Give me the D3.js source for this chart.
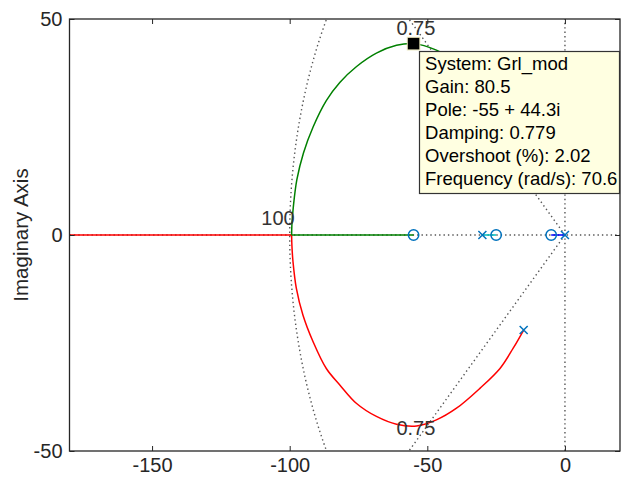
<!DOCTYPE html>
<html>
<head>
<meta charset="utf-8">
<script src="https://cdn.jsdelivr.net/npm/d3@7"></script>
<style>
  html, body { margin: 0; padding: 0; background: #ffffff; }
  svg { display: block; font-family: "Liberation Sans", Arial, sans-serif; }
</style>
</head>
<body>
<svg id="chart" width="621" height="478"></svg>
<script>
// Axis ranges and tick labels
const xDomain = [-180, 20];
const yDomain = [-50, 50];
const xTicks = [-150, -100, -50, 0];
const yTicks = [-50, 0, 50];

// Open-loop poles and zeros (real, imaginary)
const poles = [[0, 0], [-30, 0], [-15, 22], [-15, -22]];
const zerosPZ = [[-5, 0], [-25, 0], [-55, 0]];

// Complex branches of the locus (real, imaginary)
const greenArc = [[-15, 22], [-18.8, 26.2], [-23.6, 30.9], [-30.9, 35.5], [-39.4, 40.1],
  [-46.7, 42.8], [-55, 44.3], [-61.2, 43.9], [-68.5, 42.1], [-75.7, 39.0], [-81.8, 35.3],
  [-86.7, 31.1], [-91.5, 25.0], [-95.0, 19.0], [-97.4, 12.8], [-98.7, 6.4], [-99.2, 2.4], [-99.3, 0]];
const redArc = [[-15, -22], [-18.8, -26.2], [-23.6, -30.9], [-30.9, -35.5], [-39.4, -40.1],
  [-46.7, -42.8], [-53.9, -44.2], [-61.2, -43.8], [-68.5, -42.0], [-75.7, -39.0], [-81.8, -34.7],
  [-86.7, -30.9], [-91.5, -24.7], [-95.2, -18.5], [-97.6, -12.3], [-98.8, -6.2], [-99.2, -2.4], [-99.3, 0]];

// Real-axis segments of the locus
const greenReal = [[-99.3, 0], [-55, 0]];
const redReal = [[-99.3, 0], [-200, 0]];
const cyanReal = [[-30, 0], [-25, 0]];
const blueReal = [[0, 0], [-5, 0]];

// s-plane grid: damping ratio lines and natural frequency circles
const dampingRatios = [0.75];
const naturalFreqs = [100];

// Data tip
const tipPoint = [-55, 44.3];
const tipLines = ["System: Grl_mod", "Gain: 80.5", "Pole: -55 + 44.3i",
  "Damping: 0.779", "Overshoot (%): 2.02", "Frequency (rad/s): 70.6"];

const svg = d3.select("#chart");
const plot = { left: 69.5, top: 19, right: 620, bottom: 451 };

const x = d3.scaleLinear().domain(xDomain).range([plot.left, plot.right]);
const y = d3.scaleLinear().domain(yDomain).range([plot.bottom, plot.top]);

const axisColor = "#262626";
const gridColor = "#555555";

svg.append("defs").append("clipPath").attr("id", "plotClip")
  .append("rect")
  .attr("x", plot.left).attr("y", plot.top)
  .attr("width", plot.right - plot.left).attr("height", plot.bottom - plot.top);

const inner = svg.append("g").attr("clip-path", "url(#plotClip)");

// Grid
const gridG = inner.append("g")
  .attr("fill", "none")
  .attr("stroke", gridColor)
  .attr("stroke-width", 1.4)
  .attr("stroke-dasharray", "1.4,3");

const lineGen = d3.line().x(d => x(d[0])).y(d => y(d[1]));

// real and imaginary axes
gridG.append("path").attr("d", lineGen([[xDomain[0], 0], [xDomain[1], 0]]));
gridG.append("path").attr("d", lineGen([[0, yDomain[0]], [0, yDomain[1]]]));

dampingRatios.forEach(z => {
  const w = Math.sqrt(1 - z * z);
  const R = 400;
  gridG.append("path").attr("d", lineGen([[0, 0], [-z * R, w * R]]));
  gridG.append("path").attr("d", lineGen([[0, 0], [-z * R, -w * R]]));
});

naturalFreqs.forEach(wn => {
  const pts = d3.range(0, 181).map(i => {
    const a = Math.PI / 2 + (i / 180) * Math.PI;
    return [wn * Math.cos(a), wn * Math.sin(a)];
  });
  gridG.append("path").attr("d", lineGen(pts));
});

// Locus branches
const curveGen = d3.line().x(d => x(d[0])).y(d => y(d[1])).curve(d3.curveCatmullRom.alpha(0.5));
const lw = 1.5;
inner.append("path").attr("d", lineGen(redReal)).attr("stroke", "#ff0000").attr("stroke-width", lw).attr("fill", "none");
inner.append("path").attr("d", curveGen(redArc)).attr("stroke", "#ff0000").attr("stroke-width", lw).attr("fill", "none");
inner.append("path").attr("d", lineGen(greenReal)).attr("stroke", "#008000").attr("stroke-width", lw).attr("fill", "none");
inner.append("path").attr("d", curveGen(greenArc)).attr("stroke", "#008000").attr("stroke-width", lw).attr("fill", "none");
inner.append("path").attr("d", lineGen(cyanReal)).attr("stroke", "#00bfbf").attr("stroke-width", lw).attr("fill", "none");
inner.append("path").attr("d", lineGen(blueReal)).attr("stroke", "#0000ff").attr("stroke-width", lw).attr("fill", "none");

// Pole and zero markers
const markColor = "#0072bd";
inner.selectAll("circle.zero").data(zerosPZ).join("circle")
  .attr("class", "zero")
  .attr("cx", d => x(d[0])).attr("cy", d => y(d[1])).attr("r", 5.2)
  .attr("fill", "none").attr("stroke", markColor).attr("stroke-width", 1.5);

const xs = 4;
inner.selectAll("path.pole").data(poles).join("path")
  .attr("class", "pole")
  .attr("d", d => {
    const cx = x(d[0]), cy = y(d[1]);
    return `M${cx - xs},${cy - xs}L${cx + xs},${cy + xs}M${cx - xs},${cy + xs}L${cx + xs},${cy - xs}`;
  })
  .attr("stroke", markColor).attr("stroke-width", 1.5).attr("fill", "none");

// Grid labels
const labelColor = "#333333";
dampingRatios.forEach(z => {
  const w = Math.sqrt(1 - z * z);
  const xe = -z / w * yDomain[1];
  svg.append("text").attr("x", x(xe) + 7).attr("y", plot.top + 16)
    .attr("text-anchor", "middle").attr("font-size", 20).attr("fill", labelColor).text(z);
  svg.append("text").attr("x", x(xe) + 7).attr("y", plot.bottom - 16)
    .attr("text-anchor", "middle").attr("font-size", 20).attr("fill", labelColor).text(z);
});
naturalFreqs.forEach(wn => {
  svg.append("text").attr("x", x(-wn) + 5).attr("y", y(0) - 10)
    .attr("text-anchor", "end").attr("font-size", 20).attr("fill", labelColor).text(wn);
});

// Axes with inward ticks
const fmt = d => String(d);
const bottomAxis = d3.axisBottom(x).tickValues(xTicks).tickSizeInner(-5).tickSizeOuter(0).tickPadding(7).tickFormat(fmt);
const topAxis = d3.axisTop(x).tickValues(xTicks).tickSizeInner(-5).tickSizeOuter(0).tickFormat("");
const leftAxis = d3.axisLeft(y).tickValues(yTicks).tickSizeInner(-5).tickSizeOuter(0).tickPadding(7).tickFormat(fmt);
const rightAxis = d3.axisRight(y).tickValues(yTicks).tickSizeInner(-5).tickSizeOuter(0).tickFormat("");

function styleAxis(g) {
  g.select(".domain").remove();
  g.selectAll("line").attr("stroke", axisColor).attr("stroke-width", 1);
  g.selectAll("text").attr("fill", axisColor).attr("font-size", 20)
    .attr("font-family", "'Liberation Sans', Arial, sans-serif");
}
svg.append("g").attr("transform", `translate(0,${plot.bottom})`).call(bottomAxis).call(styleAxis);
svg.append("g").attr("transform", `translate(0,${plot.top})`).call(topAxis).call(styleAxis);
svg.append("g").attr("transform", `translate(${plot.left},0)`).call(leftAxis).call(styleAxis);
svg.append("g").attr("transform", `translate(${plot.right},0)`).call(rightAxis).call(styleAxis);

svg.append("rect")
  .attr("x", plot.left).attr("y", plot.top)
  .attr("width", plot.right - plot.left).attr("height", plot.bottom - plot.top)
  .attr("fill", "none").attr("stroke", axisColor).attr("stroke-width", 1.3);

// Axis title
svg.append("text")
  .attr("transform", `translate(28,${y(0)}) rotate(-90)`)
  .attr("text-anchor", "middle").attr("font-size", 20.5).attr("fill", axisColor)
  .text("Imaginary Axis");

// Data tip box and marker
const tx = x(tipPoint[0]), ty = y(tipPoint[1]);
const tip = svg.append("g");
tip.append("rect")
  .attr("x", Math.round(tx + 5) + 0.5).attr("y", Math.round(ty + 7) + 0.5)
  .attr("width", 200).attr("height", 142)
  .attr("fill", "#ffffe1").attr("stroke", "#333333").attr("stroke-width", 1.2);
tip.selectAll("text").data(tipLines).join("text")
  .attr("x", tx + 11.5)
  .attr("y", (d, i) => ty + 26 + i * 23)
  .attr("font-size", 18.5).attr("fill", "#000000")
  .text(d => d);
tip.append("rect")
  .attr("x", tx - 6.3).attr("y", ty - 6.3).attr("width", 12.6).attr("height", 12.6)
  .attr("fill", "#000000").attr("stroke", "#e8e4b8").attr("stroke-width", 1);
</script>
</body>
</html>
